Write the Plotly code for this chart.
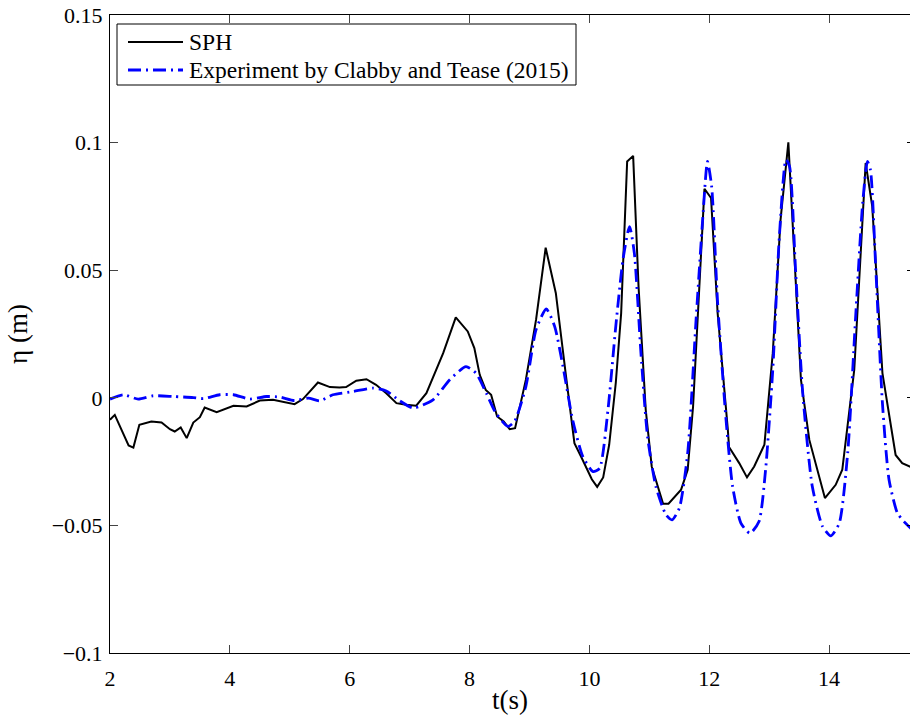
import plotly.graph_objects as go

# SPH (numerical) free-surface elevation
sph_t = [2.0, 2.08, 2.31, 2.39, 2.49, 2.69, 2.86, 3.0, 3.08, 3.18, 3.28, 3.39, 3.5, 3.58,
         3.78, 4.06, 4.28, 4.5, 4.72, 4.89, 5.08, 5.22, 5.47, 5.67, 5.83, 5.94, 6.11, 6.28,
         6.44, 6.61, 6.78, 6.94, 7.11, 7.28, 7.56, 7.77, 7.97, 8.08, 8.17, 8.27, 8.36, 8.46,
         8.57, 8.67, 8.76, 8.94, 9.11, 9.27, 9.44, 9.61, 9.75, 9.86, 10.04, 10.13, 10.23,
         10.33, 10.44, 10.53, 10.63, 10.73, 10.82, 10.94, 11.04, 11.23, 11.32, 11.53, 11.64,
         11.73, 11.83, 11.92, 12.03, 12.14, 12.31, 12.33, 12.5, 12.63, 12.75, 12.92, 13.06,
         13.19, 13.32, 13.42, 13.53, 13.67, 13.93, 14.11, 14.22, 14.42, 14.53, 14.61, 14.72,
         14.89, 15.11, 15.22, 15.4]
sph_eta = [-0.0086, -0.0067, -0.0187, -0.0195, -0.0106, -0.0093, -0.0097, -0.0123, -0.0132,
           -0.0116, -0.0158, -0.0097, -0.0076, -0.0038, -0.0056, -0.0031, -0.0034, -0.0011,
           -0.0008, -0.0016, -0.0025, -0.0005, 0.006, 0.0042, 0.004, 0.0042, 0.0067, 0.0073,
           0.0051, 0.0018, -0.0021, -0.0027, -0.0031, 0.0018, 0.0175, 0.0315, 0.026, 0.0195,
           0.009, 0.0031, 0.0012, -0.0073, -0.0093, -0.0123, -0.0119, 0.0071, 0.0306, 0.0588,
           0.041, 0.0084, -0.0178, -0.023, -0.0319, -0.0349, -0.0312, -0.0184, 0.0058, 0.0332,
           0.0926, 0.0948, 0.0436, -0.0047, -0.0269, -0.0415, -0.0415, -0.036, -0.0282,
           -0.0034, 0.0423, 0.0819, 0.0783, 0.0332, -0.0125, -0.0193, -0.0256, -0.0312,
           -0.0269, -0.0184, 0.0175, 0.0698, 0.1001, 0.0567, 0.0071, -0.0165, -0.0393,
           -0.0341, -0.0282, 0.011, 0.0593, 0.092, 0.075, 0.0097, -0.0224, -0.0256, -0.0275]

# Experiment by Clabby and Tease (2015)
exp_t = [2.0, 2.22, 2.47, 2.72, 3.06, 3.39, 3.56, 3.83, 4.06, 4.33, 4.61, 4.83, 5.08, 5.31,
         5.5, 5.72, 6.06, 6.39, 6.61, 6.83, 7.06, 7.39, 7.67, 7.94, 8.11, 8.28, 8.44, 8.64,
         8.75, 8.94, 9.11, 9.28, 9.42, 9.56, 9.72, 9.89, 10.06, 10.17, 10.31, 10.44, 10.56,
         10.67, 10.75, 10.86, 10.97, 11.11, 11.28, 11.38, 11.5, 11.64, 11.78, 11.89, 11.97,
         12.04, 12.14, 12.28, 12.39, 12.53, 12.68, 12.83, 12.94, 13.06, 13.17, 13.28, 13.34,
         13.44, 13.56, 13.72, 13.89, 14.03, 14.17, 14.31, 14.44, 14.56, 14.64, 14.69, 14.78,
         14.89, 15.0, 15.14, 15.25, 15.4]
exp_eta = [-0.0005, 0.0012, -0.0005, 0.0008, 0.0005, 0.0001, -0.0003, 0.0012, 0.0012,
           -0.0005, 0.0005, 0.0003, -0.0011, -0.0001, -0.0012, 0.0012, 0.0025, 0.0038,
           0.0027, -0.0011, -0.004, -0.0008, 0.0071, 0.0122, 0.0096, 0.0018, -0.006,
           -0.0112, -0.0093, 0.0044, 0.0267, 0.0348, 0.028, 0.0122, -0.0086, -0.023,
           -0.0289, -0.0276, -0.0047, 0.028, 0.0541, 0.0671, 0.0567, 0.0175, -0.0152,
           -0.0348, -0.0459, -0.0478, -0.0433, -0.0217, 0.0306, 0.0698, 0.0926, 0.0828,
           0.0371, -0.0086, -0.0348, -0.0492, -0.0531, -0.0485, -0.0282, 0.011, 0.0632,
           0.0933, 0.0907, 0.0502, 0.0018, -0.0348, -0.0504, -0.0541, -0.0491, -0.0217,
           0.0306, 0.0763, 0.0926, 0.0893, 0.0502, -0.0021, -0.0321, -0.0452, -0.0485, -0.052]

x_ticks = [2, 4, 6, 8, 10, 12, 14]
y_ticks = [-0.1, -0.05, 0, 0.05, 0.1, 0.15]
y_ticklabels = ["\u22120.1", "\u22120.05", "0", "0.05", "0.1", "0.15"]
series_names = ["SPH", "Experiment by Clabby and Tease (2015)"]

FONT = "Liberation Serif"
SPH_LINE = dict(color="black", width=2)
EXP_LINE = dict(color="#0000ff", width=2.8, dash="13px,5px,2px,5px")

fig = go.Figure()
fig.add_trace(go.Scatter(x=sph_t, y=sph_eta, mode="lines", name=series_names[0],
                         line=SPH_LINE, showlegend=False))
fig.add_trace(go.Scatter(x=exp_t, y=exp_eta, mode="lines", name=series_names[1],
                         line=dict(**EXP_LINE, shape="spline", smoothing=0.6),
                         showlegend=False))
# invisible helper trace for right-side mirror ticks
fig.add_trace(go.Scatter(x=[sph_t[0]], y=[sph_eta[0]], yaxis="y2", mode="lines",
                         showlegend=False, hoverinfo="skip", line=dict(width=0)))

# legend box drawn in paper coordinates (layout decoration)
PW, PH = 800.0, 638.0
def px(xp):
    return (xp - 110) / PW
def py(yp):
    return (653 - yp) / PH

shapes = [dict(type="rect", xref="paper", yref="paper", x0=px(117), x1=px(576),
               y0=py(85), y1=py(24), line=dict(color="black", width=1),
               fillcolor="white", layer="above")]
annotations = []
for i, (name, ln) in enumerate(zip(series_names, [SPH_LINE, EXP_LINE])):
    yrow = py(42 + 28 * i)
    shapes.append(dict(type="line", xref="paper", yref="paper", x0=px(128), x1=px(183),
                       y0=yrow, y1=yrow, line=ln, layer="above"))
    annotations.append(dict(text=name, xref="paper", yref="paper", x=px(187), y=yrow,
                            xanchor="left", yanchor="middle", showarrow=False,
                            font=dict(family=FONT, size=23.5, color="black")))

fig.update_layout(
    width=910, height=715,
    margin=dict(l=110, r=0, t=15, b=62),
    paper_bgcolor="white", plot_bgcolor="white",
    font=dict(family=FONT, size=22, color="black"),
    showlegend=False,
    shapes=shapes, annotations=annotations,
    xaxis=dict(range=[2, 15.35], tickvals=x_ticks, ticks="inside", ticklen=8,
               showline=True, linecolor="black", linewidth=1, mirror="ticks",
               showgrid=False, zeroline=False, ticklabelstandoff=6,
               title=dict(text="t(s)", font=dict(family=FONT, size=27), standoff=4),
               tickfont=dict(family=FONT, size=22, color="black")),
    yaxis=dict(range=[-0.1, 0.15], tickvals=y_ticks, ticktext=y_ticklabels,
               ticks="inside", ticklen=8, showline=True, linecolor="black", linewidth=1,
               mirror=False, showgrid=False, zeroline=False, ticklabelstandoff=2,
               title=dict(text="\u03b7 (m)", font=dict(family=FONT, size=27), standoff=16),
               tickfont=dict(family=FONT, size=22, color="black")),
    yaxis2=dict(range=[-0.1, 0.15], tickvals=y_ticks, overlaying="y", side="right",
                ticks="inside", ticklen=3, tickcolor="black", showline=False,
                showticklabels=False, showgrid=False, zeroline=False),
)

fig.write_html("out.html")
